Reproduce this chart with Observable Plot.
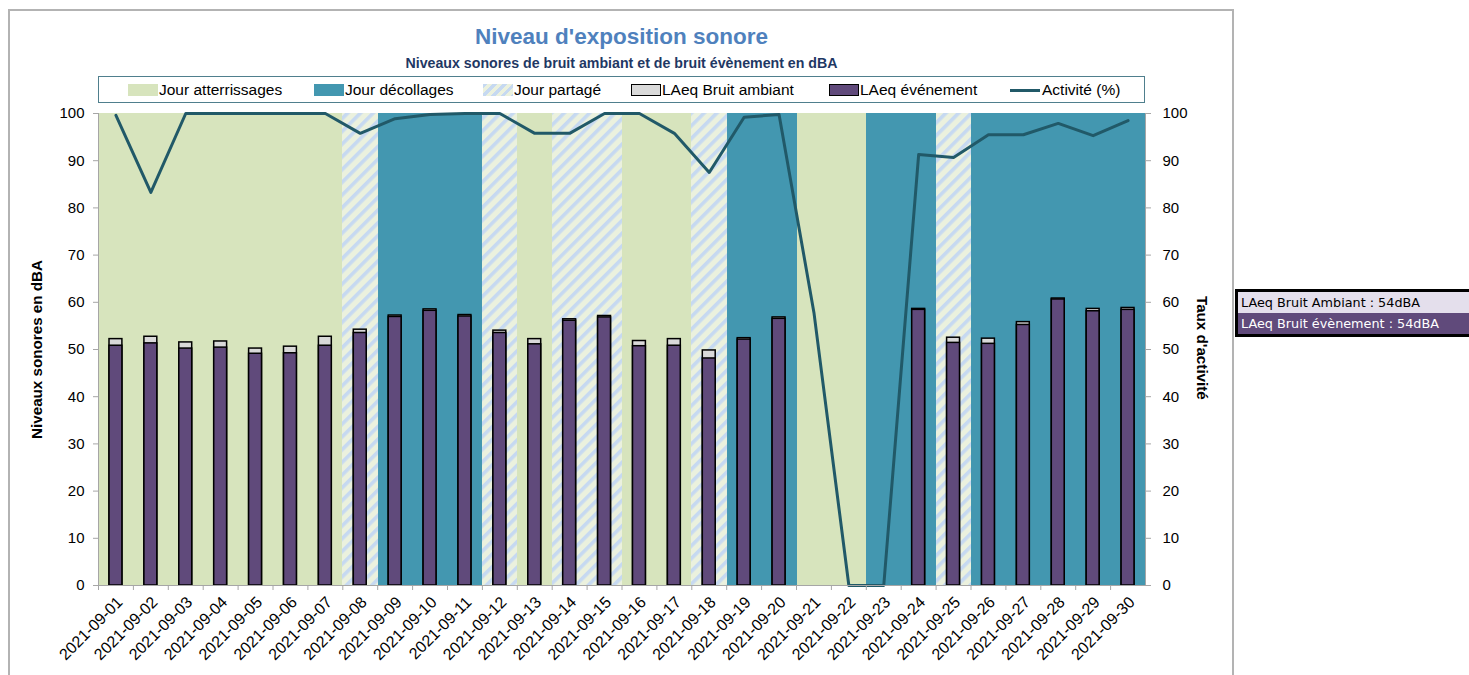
<!DOCTYPE html>
<html>
<head>
<meta charset="utf-8">
<script src="https://cdn.jsdelivr.net/npm/d3@7"></script>
<script src="https://cdn.jsdelivr.net/npm/@observablehq/plot@0.6"></script>
<style>
  body { margin: 0; background: #fff; }
  #wrap { position: relative; width: 1469px; height: 675px; overflow: hidden; font-family: "Liberation Sans", Arial, sans-serif; color: #000; }
  #chart { position: absolute; left: 0; top: 0; }
  #frame { position: absolute; left: 8px; top: 9px; width: 1222px; height: 700px; border-left: 2px solid #b3b3b3; border-top: 2px solid #b3b3b3; border-right: 2px solid #b3b3b3; pointer-events: none; z-index: 5; }
  .title { position: absolute; left: 98px; width: 1047px; text-align: center; font-weight: bold; white-space: nowrap; }
  #t1 { top: 24px; font-size: 22.5px; color: #4f81bd; }
  #t2 { top: 55px; font-size: 14.2px; color: #1f3864; }
  #legend { position: absolute; left: 98px; top: 76px; width: 1045px; height: 25px; border: 1.5px solid #4f7f8d; background: #fff; }
  .li { position: absolute; top: 4px; height: 18px; display: flex; align-items: center; font-size: 15.5px; white-space: nowrap; }
  .sw { width: 30px; height: 12px; margin-right: 1px; box-sizing: border-box; }
  .ln { width: 30px; height: 3px; background: #215968; margin-right: 2px; }
  .ytitle { position: absolute; font-weight: bold; font-size: 15.2px; white-space: nowrap; writing-mode: vertical-rl; }
  #yl { left: 28px; top: 260px; transform: rotate(180deg); }
  #yr { left: 1194px; top: 296px; }
  #box { position: absolute; left: 1235px; top: 289px; width: 240px; border: 3px solid #000; font-family: "DejaVu Sans", sans-serif; font-size: 12.8px; }
  #box div { height: 21px; line-height: 21px; padding-left: 3px; white-space: nowrap; }
  #r1 { background: #e4dfec; color: #000; }
  #r2 { background: #604a7b; color: #fff; }
</style>
</head>
<body>
<div id="wrap">
  <div id="chart"></div>
  <div id="frame"></div>
  <div class="title" id="t1">Niveau d'exposition sonore</div>
  <div class="title" id="t2">Niveaux sonores de bruit ambiant et de bruit évènement en dBA</div>
  <div id="legend"></div>
  <div class="ytitle" id="yl">Niveaux sonores en dBA</div>
  <div class="ytitle" id="yr">Taux d'activité</div>
  <div id="box"><div id="r1"></div><div id="r2"></div></div>
</div>
<script>
// ---------- data ----------
const dates = [
  "2021-09-01","2021-09-02","2021-09-03","2021-09-04","2021-09-05","2021-09-06","2021-09-07","2021-09-08","2021-09-09","2021-09-10",
  "2021-09-11","2021-09-12","2021-09-13","2021-09-14","2021-09-15","2021-09-16","2021-09-17","2021-09-18","2021-09-19","2021-09-20",
  "2021-09-21","2021-09-22","2021-09-23","2021-09-24","2021-09-25","2021-09-26","2021-09-27","2021-09-28","2021-09-29","2021-09-30"
];
// A = Jour atterrissages, D = Jour décollages, P = Jour partagé
const dayType = ["A","A","A","A","A","A","A","P","D","D","D","P","A","P","P","A","A","P","D","D","A","A","D","D","P","D","D","D","D","D"];
const ambient = [52.2,52.7,51.5,51.7,50.2,50.6,52.7,54.2,57.2,58.5,57.3,54.0,52.2,56.4,57.1,51.8,52.2,49.8,52.4,56.8,null,null,null,58.6,52.5,52.3,55.8,60.8,58.6,58.8];
const eventLevel = [50.8,51.3,50.2,50.4,49.1,49.2,50.8,53.5,56.9,58.2,57.0,53.5,51.1,56.1,56.8,50.7,50.8,48.1,52.1,56.5,null,null,null,58.4,51.4,51.2,55.2,60.6,58.1,58.4];
const activity = [99.6,83.3,100,100,100,100,100,95.8,98.9,99.8,100,100,95.8,95.8,100,100,95.8,87.5,99.2,99.8,57.8,0,0,91.3,90.7,95.5,95.5,97.9,95.3,98.5];
const yTicks = [0,10,20,30,40,50,60,70,80,90,100];
const legendLabels = ["Jour atterrissages","Jour décollages","Jour partagé","LAeq Bruit ambiant","LAeq événement","Activité (%)"];
const boxLabels = ["LAeq Bruit Ambiant : 54dBA","LAeq Bruit évènement : 54dBA"];

// ---------- chart ----------
const rows = dates.map((d, i) => ({date: d, type: dayType[i], ambient: ambient[i], event: eventLevel[i], activity: activity[i]}));
const barRows = rows.filter(r => r.event != null);

const W = 1232, H = 675, mL = 98, mR = 87, mT = 113, mB = 90;
const bw = (W - mL - mR) / dates.length;
const GREEN = "#d7e4bd", BLUE = "#4397b0", PURPLE = "#604a7b", GREY = "#d9d9d9", LINE = "#215968", AX = "#a6a6a6";
const bandOpts = {x: "date", shapeRendering: "crispEdges", insetRight: -0.5};

const chart = Plot.plot({
  width: W, height: H,
  marginLeft: mL, marginRight: mR, marginTop: mT, marginBottom: mB,
  style: {fontFamily: "'Liberation Sans', Arial, sans-serif", fontSize: "15px", background: "transparent", color: "#000", overflow: "visible"},
  x: {type: "band", domain: dates, padding: 0, round: false, label: null},
  y: {domain: [0, 100], label: null},
  marks: [
    Plot.cell(rows.filter(r => r.type === "A"), {...bandOpts, fill: GREEN}),
    Plot.cell(rows.filter(r => r.type === "D"), {...bandOpts, fill: BLUE}),
    Plot.cell(rows.filter(r => r.type === "P"), {...bandOpts, fill: "url(#hatch)"}),
    Plot.barY(barRows, {x: "date", y1: 0, y2: "ambient", fill: GREY, stroke: "#000", strokeWidth: 1.5, insetLeft: 11, insetRight: 11}),
    Plot.barY(barRows, {x: "date", y1: 0, y2: "event", fill: PURPLE, stroke: "#000", strokeWidth: 1.5, insetLeft: 11, insetRight: 11}),
    Plot.line(rows, {x: "date", y: "activity", stroke: LINE, strokeWidth: 3}),
    Plot.ruleY([0], {stroke: AX}),
    Plot.frame({anchor: "left", stroke: AX}),
    Plot.frame({anchor: "right", stroke: AX}),
    Plot.axisY({anchor: "left", ticks: yTicks, tickSize: 5, tickPadding: 9, stroke: AX, fill: "#000", label: null}),
    Plot.axisY({anchor: "right", ticks: yTicks, tickSize: 5, tickPadding: 12, stroke: AX, fill: "#000", label: null}),
    Plot.axisX({anchor: "bottom", tickSize: 5, tickFormat: () => "", dx: -bw / 2, stroke: AX, label: null}),
    Plot.axisX({anchor: "bottom", tickSize: 0, tickPadding: 14, tickRotate: -45, dx: 4, fontSize: 16, fill: "#000", label: null})
  ]
});

d3.select(chart).insert("defs", ":first-child").html(
  `<pattern id="hatch" patternUnits="userSpaceOnUse" width="9" height="9" patternTransform="rotate(45)">
     <rect width="9" height="9" fill="#ebf1de"></rect>
     <rect width="3.6" height="9" fill="#c6d9f1"></rect>
   </pattern>`
);
document.getElementById("chart").appendChild(chart);

// ---------- legend ----------
const legendX = [29, 215, 384, 532, 730, 911];
const swatchStyles = [
  `background:${GREEN}`,
  `background:${BLUE}`,
  `background:repeating-linear-gradient(135deg,#c6d9f1 0 3px,#ebf1de 3px 7px)`,
  `background:${GREY};border:1.5px solid #000`,
  `background:${PURPLE};border:1.5px solid #000`,
  null
];
const legend = document.getElementById("legend");
legendLabels.forEach((lab, i) => {
  const item = document.createElement("div");
  item.className = "li";
  item.style.left = legendX[i] + "px";
  const sw = document.createElement("div");
  if (swatchStyles[i]) { sw.className = "sw"; sw.setAttribute("style", swatchStyles[i]); }
  else { sw.className = "ln"; }
  item.appendChild(sw);
  const t = document.createElement("span");
  t.textContent = lab;
  item.appendChild(t);
  legend.appendChild(item);
});
document.getElementById("r1").textContent = boxLabels[0];
document.getElementById("r2").textContent = boxLabels[1];
</script>
</body>
</html>
